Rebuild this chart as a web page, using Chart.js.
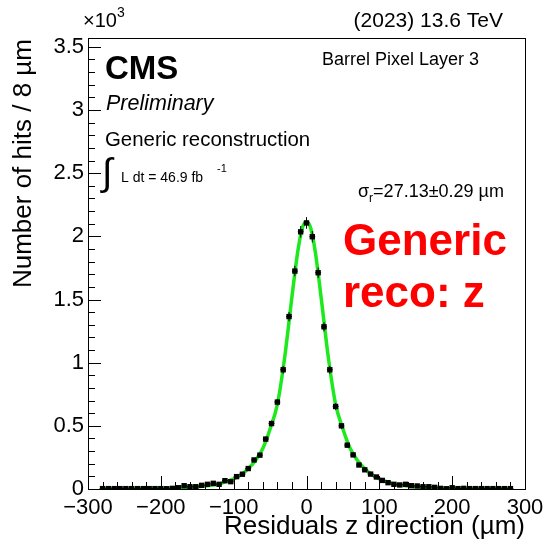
<!DOCTYPE html>
<html>
<head>
<meta charset="utf-8">
<script src="https://cdn.jsdelivr.net/npm/chart.js@4/dist/chart.umd.min.js"></script>
<style>
  html, body { margin: 0; padding: 0; background: #fff; }
  canvas { display: block; }
</style>
</head>
<body>
<canvas id="residualChart" width="545" height="544" style="width:545px;height:544px"></canvas>
<script>
// bin centres of the 8 um histogram (um)
const binCenters = [
    -280, -272, -264, -256, -248, -240, -232, -224, -216, -208,
    -200, -192, -184, -176, -168, -160, -152, -144, -136, -128,
    -120, -112, -104, -96, -88, -80, -72, -64, -56, -48,
    -40, -32, -24, -16, -8, 0, 8, 16, 24, 32,
    40, 48, 56, 64, 72, 80, 88, 96, 104, 112,
    120, 128, 136, 144, 152, 160, 168, 176, 184, 192,
    200, 208, 216, 224, 232, 240, 248, 256, 264, 272, 280
];
// hits per bin
const hitCounts = [
    3, 3, 3, 3, 3, 3, 3, 3, 3, 3,
    3, 2, 5, 10, 26, 18, 18, 29, 37, 45,
    37, 66, 58, 98, 117, 162, 230, 268, 395, 518,
    688, 944, 1365, 1725, 2036, 2106, 1997, 1712, 1284, 944,
    653, 500, 347, 270, 190, 152, 118, 95, 68, 50,
    37, 32, 37, 26, 24, 18, 18, 13, 5, 2,
    10, 3, 5, 3, 3, 3, 3, 3, 3, 3, 3
];
// fitted curve, sampled off the plot
const fitX = [-280, -240, -200, -180, -160, -140, -120, -110, -100, -90, -80, -70, -60, -50, -40, -30, -20, -12, -6, 0,
              6, 12, 20, 30, 40, 50, 60, 70, 80, 90, 100, 110, 120, 140, 160, 180, 200, 240, 280];
const fitY = [2, 3, 5, 8, 14, 24, 40, 58, 80, 112, 160, 225, 320, 475, 670, 1040, 1520, 1880, 2060, 2115,
              2060, 1880, 1520, 1040, 670, 475, 320, 225, 160, 112, 80, 58, 40, 24, 14, 8, 5, 3, 2];
const xTicks = [-300, -200, -100, 0, 100, 200, 300];
const yTickLabels = ['0', '0.5', '1', '1.5', '2', '2.5', '3', '3.5'];
const binHalfWidth = 4;

const FONT = "'Liberation Sans', Arial, Helvetica, sans-serif";

const rootStyle = {
    id: 'rootStyle',
    afterDatasetsDraw(chart) {
        // error bars on the data points
        const { ctx, scales: { x, y } } = chart;
        ctx.save();
        ctx.strokeStyle = '#000';
        ctx.lineWidth = 1;
        ctx.beginPath();
        binCenters.forEach((c, i) => {
            const n = hitCounts[i];
            const px = x.getPixelForValue(c), py = y.getPixelForValue(n);
            ctx.moveTo(x.getPixelForValue(c - binHalfWidth), py);
            ctx.lineTo(x.getPixelForValue(c + binHalfWidth), py);
            const e = Math.sqrt(n);
            ctx.moveTo(px, y.getPixelForValue(n - e));
            ctx.lineTo(px, y.getPixelForValue(n + e));
        });
        ctx.stroke();
        ctx.restore();
    },
    afterDraw(chart) {
        const { ctx, chartArea: a, scales: { x, y } } = chart;
        ctx.save();
        // frame
        ctx.strokeStyle = '#000';
        ctx.lineWidth = 1;
        ctx.strokeRect(Math.round(a.left) + 0.5, Math.round(a.top) + 0.5, Math.round(a.right - a.left), Math.round(a.bottom - a.top));
        // inward ticks
        ctx.beginPath();
        for (let v = -300; v <= 300; v += 20) {
            const px = Math.round(x.getPixelForValue(v)) + 0.5;
            const len = v % 100 === 0 ? 13 : 7;
            ctx.moveTo(px, a.bottom);
            ctx.lineTo(px, a.bottom - len);
        }
        for (let v = 0; v <= 3500; v += 100) {
            const py = Math.round(y.getPixelForValue(v)) + 0.5;
            const len = v % 500 === 0 ? 13 : 7;
            ctx.moveTo(a.left, py);
            ctx.lineTo(a.left + len, py);
        }
        ctx.stroke();

        ctx.fillStyle = '#000';
        ctx.textAlign = 'left';
        ctx.textBaseline = 'alphabetic';
        // exponent
        ctx.font = `20px ${FONT}`;
        ctx.fillText('\u00d710', 83, 27);
        let w = ctx.measureText('\u00d710').width;
        ctx.font = `14px ${FONT}`;
        ctx.fillText('3', 83 + w, 17);

        ctx.font = `21px ${FONT}`;
        ctx.textAlign = 'right';
        ctx.fillText('(2023) 13.6 TeV', 503, 27);
        ctx.textAlign = 'left';

        ctx.font = `bold 33px ${FONT}`;
        ctx.fillText('CMS', 105, 79);
        ctx.font = `italic 21.5px ${FONT}`;
        ctx.fillText('Preliminary', 106, 110);
        ctx.font = `18px ${FONT}`;
        ctx.fillText('Barrel Pixel Layer 3', 322, 65);
        ctx.font = `20.4px ${FONT}`;
        ctx.fillText('Generic reconstruction', 105, 146);
        ctx.font = `38px ${FONT}`;
        ctx.fillText('\u222b', 102, 185);
        ctx.font = `14px ${FONT}`;
        ctx.fillText('L dt = 46.9 fb', 121, 182);
        ctx.font = `11px ${FONT}`;
        ctx.fillText('-1', 217, 172);

        ctx.font = `18px ${FONT}`;
        ctx.fillText('\u03c3', 358, 197);
        w = ctx.measureText('\u03c3').width;
        ctx.font = `12px ${FONT}`;
        ctx.fillText('r', 358 + w, 202);
        const w2 = ctx.measureText('r').width;
        ctx.font = `18px ${FONT}`;
        ctx.fillText('=27.13\u00b10.29 \u00b5m', 358 + w + w2, 197);

        ctx.fillStyle = '#ff0000';
        ctx.font = `bold 44px ${FONT}`;
        ctx.fillText('Generic', 343, 255);
        ctx.fillText('reco: z', 343, 307);

        // axis titles
        ctx.fillStyle = '#000';
        ctx.font = `26px ${FONT}`;
        ctx.textAlign = 'right';
        ctx.fillText('Residuals z direction (\u00b5m)', 525, 534);
        ctx.translate(31, 39);
        ctx.rotate(-Math.PI / 2);
        ctx.fillText('Number of hits / 8 \u00b5m', 0, 0);
        ctx.restore();
    }
};

new Chart(document.getElementById('residualChart'), {
    type: 'scatter',
    data: {
        datasets: [
            {
                label: 'data',
                data: binCenters.map((c, i) => ({ x: c, y: hitCounts[i] })),
                pointStyle: 'rect',
                pointRadius: 3.8,
                pointBackgroundColor: '#000',
                pointBorderWidth: 0,
                showLine: false,
                order: 1
            },
            {
                label: 'fit',
                data: fitX.map((v, i) => ({ x: v, y: fitY[i] })),
                showLine: true,
                borderColor: '#1ee81e',
                borderWidth: 3.5,
                pointRadius: 0,
                cubicInterpolationMode: 'monotone',
                order: 2
            }
        ]
    },
    options: {
        responsive: false,
        animation: false,
        devicePixelRatio: 1,
        layout: { padding: { top: 38, right: 20, left: 0, bottom: 0 } },
        plugins: { legend: { display: false }, tooltip: { enabled: false } },
        scales: {
            x: {
                type: 'linear',
                min: -300,
                max: 300,
                afterFit: s => { s.height = 55; s.paddingLeft = 0; s.paddingRight = 0; },
                afterBuildTicks: s => { s.ticks = xTicks.map(v => ({ value: v })); },
                grid: { display: false, drawTicks: false, tickLength: 0 },
                border: { display: false },
                ticks: {
                    autoSkip: false,
                    maxRotation: 0,
                    padding: 6,
                    color: '#000',
                    font: { family: FONT, size: 22 },
                    callback: v => (v < 0 ? '\u2212' + Math.abs(v) : String(v))
                }
            },
            y: {
                min: 0,
                max: 3570,
                afterFit: s => { s.width = 88; s.paddingTop = 0; s.paddingBottom = 0; },
                afterBuildTicks: s => { s.ticks = yTickLabels.map((t, i) => ({ value: i * 500 })); },
                grid: { display: false, drawTicks: false, tickLength: 0 },
                border: { display: false },
                ticks: {
                    autoSkip: false,
                    padding: 4,
                    color: '#000',
                    font: { family: FONT, size: 22 },
                    callback: (v, i) => yTickLabels[i]
                }
            }
        }
    },
    plugins: [rootStyle]
});
</script>
</body>
</html>
